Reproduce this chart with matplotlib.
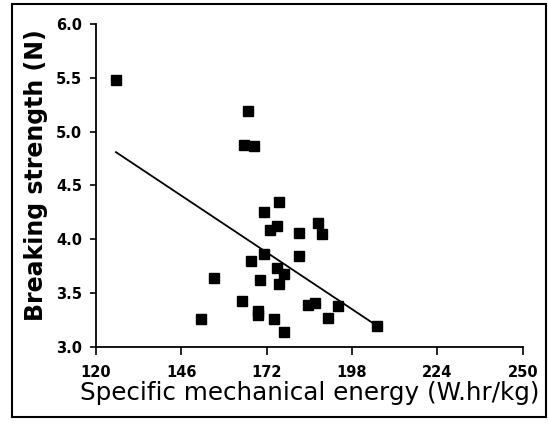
import matplotlib
matplotlib.use('Agg')
import matplotlib.pyplot as plt
from matplotlib.patches import Rectangle

# specific mechanical energy (W.hr/kg) vs breaking strength (N)
sme = [126.1, 166.4, 165.1, 168.1, 175.8, 171.1, 175.0, 173.0, 181.8, 187.7,
       188.8, 171.1, 167.1, 181.8, 175.0, 177.2, 156.1, 170.1, 175.8, 164.4,
       169.3, 169.3, 174.2, 177.2, 184.7, 186.8, 193.7, 190.6, 205.6, 151.9]
strength = [5.48, 5.19, 4.88, 4.87, 4.35, 4.25, 4.12, 4.09, 4.06, 4.15,
            4.05, 3.86, 3.80, 3.84, 3.73, 3.68, 3.64, 3.62, 3.58, 3.43,
            3.33, 3.30, 3.26, 3.14, 3.39, 3.41, 3.38, 3.27, 3.19, 3.26]

# regression line end points
fit_x = [126.1, 204.4]
fit_y = [4.81, 3.22]

xticks = [120, 146, 172, 198, 224, 250]
yticks = [3.0, 3.5, 4.0, 4.5, 5.0, 5.5, 6.0]


def main():
    fig = plt.figure(figsize=(5.48, 4.23), dpi=100)
    ax = fig.add_axes([0.175, 0.180, 0.779, 0.763])

    ax.plot(fit_x, fit_y, color='black', lw=1.3)
    ax.plot(sme, strength, 's', color='black', markersize=7)

    ax.set_xlim(120, 250)
    ax.set_ylim(3.0, 6.0)
    ax.set_xticks(xticks)
    ax.set_xticklabels([str(t) for t in xticks])
    ax.set_yticks(yticks)
    ax.set_yticklabels(['%.1f' % t for t in yticks])

    for s in ['top', 'right']:
        ax.spines[s].set_visible(False)
    for s in ['left', 'bottom']:
        ax.spines[s].set_linewidth(1.3)
    ax.tick_params(direction='out', width=1.2, labelsize=10.5)
    ax.tick_params(axis='x', length=6, pad=7)
    ax.tick_params(axis='y', length=4, pad=6)
    for lab in ax.get_xticklabels() + ax.get_yticklabels():
        lab.set_fontweight('bold')

    ax.set_xlabel('Specific mechanical energy (W.hr/kg)', fontsize=17.7, labelpad=1)
    ax.set_ylabel('Breaking strength (N)', fontsize=17, fontweight='bold')
    ax.yaxis.set_label_coords(-0.112, 0.532)

    fig.patches.append(Rectangle((0.022, 0.014), 0.975, 0.976, transform=fig.transFigure,
                                 fill=False, edgecolor='black', lw=1.5))

    fig.savefig('out.png', dpi=100)


if __name__ == "__main__":
    main()
